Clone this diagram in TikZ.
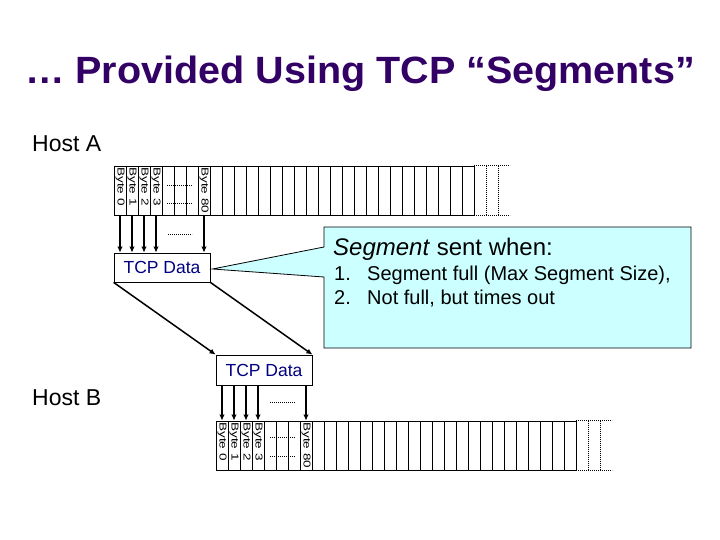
\documentclass[tikz,border=0pt]{standalone}
\usepackage{fontspec}
\setmainfont{Liberation Sans}
\usepackage{graphicx}
\usetikzlibrary{arrows.meta}
\definecolor{titlepurple}{HTML}{330066}
\definecolor{datablue}{HTML}{000080}
\definecolor{notecyan}{HTML}{CCFFFF}
\newcommand{\bytetext}[1]{\scalebox{1.35}[1]{#1}}
\tikzset{
  cell/.style={draw, line width=0.8pt, minimum width=12pt, minimum height=49pt, inner sep=0pt},
  bytelabel/.style={rotate=-90, anchor=west, inner sep=1.5pt, font=\fontsize{10}{10}\selectfont},
  tcpbox/.style={draw, line width=0.8pt, fill=white, minimum width=96pt, minimum height=29pt, inner sep=0pt, text=datablue, font=\fontsize{17.5}{17.5}\selectfont},
  dots/.style={line width=0.8pt, dash pattern=on 0.8pt off 1.2pt},
  thickarrow/.style={line width=2pt, -{Latex[length=6pt,width=5.5pt]}},
  hoparrow/.style={line width=1.5pt, -{Latex[length=6pt,width=5.5pt]}},
  txt/.style={anchor=base west, inner sep=0pt}
}

\begin{document}
\begin{tikzpicture}[x=1pt,y=-1pt]
      \useasboundingbox (0,0) rectangle (720,540);
      \node[anchor=base, inner sep=0pt, xscale=1.04, text=titlepurple, font=\bfseries\fontsize{38}{38}\selectfont] (title) at (360,84) {… Provided Using TCP “Segments”};
      \node[txt, font=\fontsize{23}{23}\selectfont] (hostA) at (32,152) {Host A};
      \node[txt, font=\fontsize{23}{23}\selectfont] (hostB) at (32,405) {Host B};
      \foreach \i in {0,...,29} \node[cell] (a\i) at ({120+12*\i},190.5) {};
      \foreach \i in {0,...,29} \node[cell] (b\i) at ({222+12*\i},445.5) {};
      \foreach \i/\n in {0/0,1/1,2/2,3/3,7/80} {
        \node[bytelabel] (la\i) at (a\i.north) {\bytetext{Byte \n}};
        \node[bytelabel] (lb\i) at (b\i.north) {\bytetext{Byte \n}};
      }
      \draw[dots] (a29.north east) -- ++(36,0) (a29.south east) -- ++(36,0);
      \draw[dots] ([xshift=12pt]a29.north east) -- ([xshift=12pt]a29.south east);
      \draw[dots] ([xshift=24pt]a29.north east) -- ([xshift=24pt]a29.south east);
      \draw[dots] (b29.north east) -- ++(36,0) (b29.south east) -- ++(36,0);
      \draw[dots] ([xshift=12pt]b29.north east) -- ([xshift=12pt]b29.south east);
      \draw[dots] ([xshift=24pt]b29.north east) -- ([xshift=24pt]b29.south east);
      \draw[dots] (167,185) -- (192,185) (167,203) -- (192,203) (168,234) -- (192,234);
      \draw[dots] (270,402) -- (295,402) (270,437) -- (295,437) (270,456) -- (295,456);
      \node[tcpbox] (tcpA) at (162,267.5) {TCP Data};
      \node[tcpbox, minimum height=30pt] (tcpB) at (264,370) {TCP Data};
      \foreach \i in {0,1,2,3,7} {
        \draw[thickarrow] (a\i.south) -- (a\i.south |- tcpA.north);
        \draw[thickarrow] (tcpB.south -| b\i.north) -- (b\i.north);
      }
      \draw[hoparrow] (tcpA.south west) -- (tcpB.north west);
      \draw[hoparrow] (tcpA.south east) -- (tcpB.north east);
      \filldraw[fill=notecyan, line width=0.8pt] (324,247) -- (324,227) -- (691,227) -- (691,348) -- (324,348) -- (324,277) -- ([xshift=2pt,yshift=-1.5pt]tcpA.east) -- cycle;
      \node[txt, font=\fontsize{24}{24}\selectfont] (when) at (333,255) {\textit{Segment} sent when:};
      \node[txt, font=\fontsize{20}{20}\selectfont] (num1) at (334,280) {1.};
      \node[txt, font=\fontsize{20}{20}\selectfont] (item1) at (367,280) {Segment full (Max Segment Size),};
      \node[txt, font=\fontsize{20}{20}\selectfont] (num2) at (334,304) {2.};
      \node[txt, font=\fontsize{20}{20}\selectfont] (item2) at (367,304) {Not full, but times out};
\end{tikzpicture}
\end{document}
